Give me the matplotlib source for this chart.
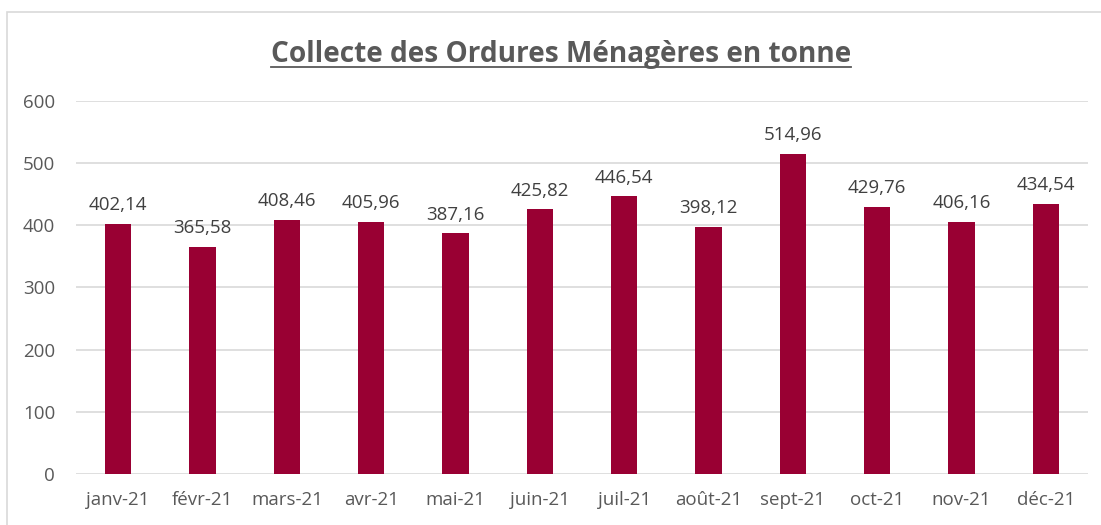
import matplotlib.pyplot as plt
from matplotlib.lines import Line2D
from matplotlib.patches import Rectangle

# Collecte mensuelle 2021 (tonnes)
mois = ["janv-21", "févr-21", "mars-21", "avr-21", "mai-21", "juin-21",
        "juil-21", "août-21", "sept-21", "oct-21", "nov-21", "déc-21"]
tonnes = [402.14, 365.58, 408.46, 405.96, 387.16, 425.82,
          446.54, 398.12, 514.96, 429.76, 406.16, 434.54]
graduations = [0, 100, 200, 300, 400, 500, 600]

plt.rcParams["font.family"] = ["Open Sans", "DejaVu Sans"]

fig = plt.figure(figsize=(11.01, 5.25), dpi=100)

# cadre gris clair du graphique (coupé en bas)
fig.patches.append(Rectangle((7 / 1101, -0.05), 1.2, 1.05 - 12 / 525,
                             transform=fig.transFigure, fill=False,
                             edgecolor="#d9d9d9", linewidth=1.2))

ax = fig.add_axes([76 / 1101, 51 / 525, (1088 - 76) / 1101, (474 - 101) / 525])

x = range(len(mois))
bars = ax.bar(x, tonnes, width=0.31, color="#990033", zorder=3)

for xi, v in zip(x, tonnes):
    ax.annotate(f"{v:.2f}".replace(".", ","), (xi, v), xytext=(0, 7),
                textcoords="offset points", ha="center", va="bottom",
                fontsize=13.5, color="#404040")

ax.set_xlim(-0.5, len(mois) - 0.5)
ax.set_ylim(0, 600)
ax.set_yticks(graduations)
ax.set_xticks(list(x))
ax.set_xticklabels(mois)
ax.grid(axis="y", color="#d9d9d9", linewidth=1.2, zorder=0)
for s in ax.spines.values():
    s.set_visible(False)
ax.tick_params(length=0, labelsize=13.5, labelcolor="#595959")
ax.tick_params(axis="x", pad=12)
ax.tick_params(axis="y", pad=15)

titre = fig.text(561 / 1101, 1 - 62 / 525, "Collecte des Ordures Ménagères en tonne",
                 ha="center", va="baseline", fontsize=20.2, fontweight="bold",
                 color="#595959")

# soulignement du titre
fig.canvas.draw()
bb = titre.get_window_extent().transformed(fig.transFigure.inverted())
y_line = 1 - 67 / 525
fig.lines.append(Line2D([bb.x0, bb.x1], [y_line, y_line], transform=fig.transFigure,
                        color="#595959", linewidth=1.3))

fig.savefig("out.png", dpi=100)
